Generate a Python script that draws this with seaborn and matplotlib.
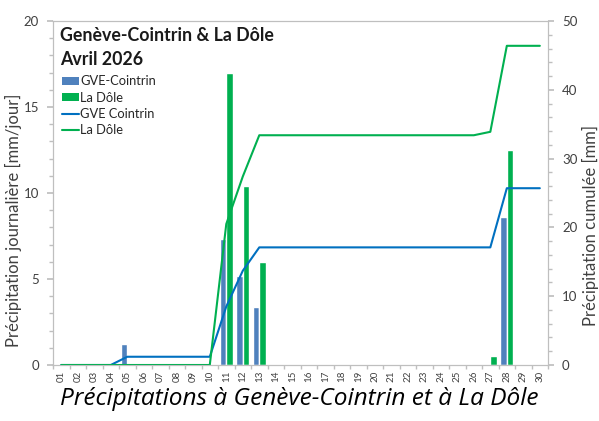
import matplotlib
matplotlib.use('Agg')

import matplotlib.pyplot as plt
import seaborn as sns
import pandas as pd
import numpy as np
from matplotlib.patches import Patch
from matplotlib.lines import Line2D
from matplotlib.ticker import MultipleLocator

# données (avril 2026)
days = ['01', '02', '03', '04', '05', '06', '07', '08', '09', '10',
        '11', '12', '13', '14', '15', '16', '17', '18', '19', '20',
        '21', '22', '23', '24', '25', '26', '27', '28', '29', '30']
gve_daily = [0, 0, 0, 0, 1.2, 0, 0, 0, 0, 0,
             7.3, 5.2, 3.4, 0, 0, 0, 0, 0, 0, 0,
             0, 0, 0, 0, 0, 0, 0, 8.6, 0, 0]
dole_daily = [0, 0, 0, 0, 0, 0, 0, 0, 0, 0,
              17.0, 10.4, 6.0, 0, 0, 0, 0, 0, 0, 0,
              0, 0, 0, 0, 0, 0, 0.5, 12.5, 0, 0]
gve_cum = [0, 0, 0, 0, 1.2, 1.2, 1.2, 1.2, 1.2, 1.2,
           8.5, 13.7, 17.1, 17.1, 17.1, 17.1, 17.1, 17.1, 17.1, 17.1,
           17.1, 17.1, 17.1, 17.1, 17.1, 17.1, 17.1, 25.7, 25.7, 25.7]
dole_cum = [0, 0, 0, 0, 0, 0, 0, 0, 0, 0,
            20.5, 27.4, 33.4, 33.4, 33.4, 33.4, 33.4, 33.4, 33.4, 33.4,
            33.4, 33.4, 33.4, 33.4, 33.4, 33.4, 33.9, 46.4, 46.4, 46.4]

BAR_BLUE = '#4F81BD'
BAR_GREEN = '#00B050'
LINE_BLUE = '#0070C0'
LINE_GREEN = '#00B050'
GRAY = '#BFBFBF'
TXT = '#404040'

sns.set_theme(style="white")
plt.rcParams['font.family'] = ['Lato', 'DejaVu Sans']
plt.rcParams['axes.edgecolor'] = GRAY
plt.rcParams['xtick.color'] = GRAY
plt.rcParams['ytick.color'] = GRAY

fig = plt.figure(figsize=(5.99, 4.21), dpi=100)
ax = fig.add_axes([0.0885, 0.133, 0.8265, 0.817])

df = pd.DataFrame({
    'day': days * 2,
    'mm': gve_daily + dole_daily,
    'station': ['GVE-Cointrin'] * len(days) + ['La Dôle'] * len(days),
})
sns.barplot(data=df, x='day', y='mm', hue='station', order=days,
            palette=[BAR_BLUE, BAR_GREEN], saturation=1, width=0.8,
            legend=False, ax=ax)

ax2 = ax.twinx()
xpos = np.arange(len(days))
sns.lineplot(x=xpos, y=gve_cum, color=LINE_BLUE, linewidth=1.5, ax=ax2)
sns.lineplot(x=xpos, y=dole_cum, color=LINE_GREEN, linewidth=1.5, ax=ax2)

ax.set_xlim(-0.5, len(days) - 0.5)
ax.set_ylim(0, 20)
ax2.set_ylim(0, 50)

# axe x : libellés au centre, petites graduations aux limites des catégories
ax.set_xticks(xpos)
ax.set_xticklabels(days, rotation=90, fontsize=7, color=TXT)
ax.set_xticks(np.arange(-0.5, len(days), 1), minor=True)
ax.tick_params(axis='x', which='major', length=0, pad=4)
ax.tick_params(axis='x', which='minor', length=3, direction='out', bottom=True)
ax.set_xlabel('')

ax.yaxis.set_major_locator(MultipleLocator(5))
ax.yaxis.set_minor_locator(MultipleLocator(1))
ax.tick_params(axis='y', which='both', left=True, direction='out', labelsize=9.5, labelcolor=TXT)
ax.tick_params(axis='y', which='major', length=4, pad=6)
ax.tick_params(axis='y', which='minor', length=3)
ax.set_ylabel('Précipitation journalière [mm/jour]', fontsize=12, color=TXT)
ax.yaxis.set_label_coords(-0.062, 0.42)

ax2.yaxis.set_major_locator(MultipleLocator(10))
ax2.yaxis.set_minor_locator(MultipleLocator(2))
ax2.tick_params(axis='y', which='both', right=True, direction='out', labelsize=9.5, labelcolor=TXT)
ax2.tick_params(axis='y', which='major', length=4, pad=6)
ax2.tick_params(axis='y', which='minor', length=3)
ax2.set_ylabel('Précipitation cumulée [mm]', fontsize=12, color=TXT)
ax2.yaxis.set_label_coords(1.068, 0.405)

for a in (ax, ax2):
    for sp in a.spines.values():
        sp.set_color(GRAY)
        sp.set_linewidth(0.8)
    a.grid(False)

ax2.text(0.014, 0.982, 'Genève-Cointrin & La Dôle\nAvril 2026', transform=ax2.transAxes,
         ha='left', va='top', fontsize=12.8, fontweight='bold', color='#1a1a1a',
         linespacing=1.5)

handles = [
    Patch(facecolor=BAR_BLUE, edgecolor='none'),
    Patch(facecolor=BAR_GREEN, edgecolor='none'),
    Line2D([], [], color=LINE_BLUE, linewidth=1.5),
    Line2D([], [], color=LINE_GREEN, linewidth=1.5),
]
labels = ['GVE-Cointrin', 'La Dôle', 'GVE Cointrin', 'La Dôle']
ax2.legend(handles, labels, loc='upper left', bbox_to_anchor=(0.018, 0.842),
           frameon=False, fontsize=9.3, handlelength=1.3, handleheight=0.6,
           handletextpad=0.1, borderpad=0, borderaxespad=0, labelspacing=0.33,
           labelcolor='#262626')

fig.text(0.5, 0.053, 'Précipitations à Genève-Cointrin et à La Dôle',
         ha='center', va='center', fontsize=17.6, fontstyle='italic',
         family=['Open Sans', 'Lato', 'DejaVu Sans'], color='#000000')

fig.savefig('out.png', dpi=100)
